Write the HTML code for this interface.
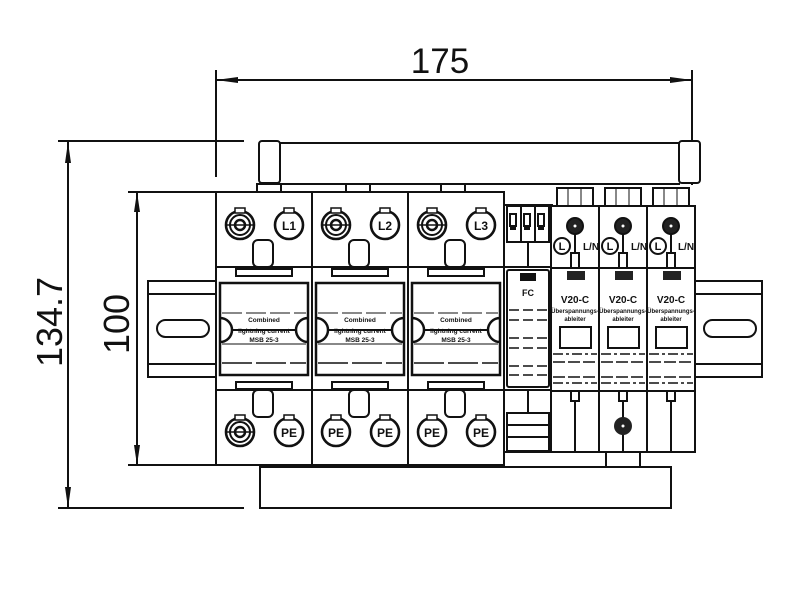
<!DOCTYPE html>
<html><head><meta charset="utf-8"><style>
html,body{margin:0;padding:0;background:#fff;width:800px;height:600px;overflow:hidden}
svg{display:block}
text{font-family:"Liberation Sans",sans-serif}
</style></head><body>
<svg width="800" height="600" viewBox="0 0 800 600" xmlns="http://www.w3.org/2000/svg">
<defs>
<g id="term">
<circle r="14" fill="#fff" stroke="#111" stroke-width="2.6"/>
<rect x="-5" y="-17" width="10" height="5" fill="#fff" stroke="#111" stroke-width="1.5"/>
</g>
<g id="screw">
<use href="#term"/>
<circle r="10" fill="none" stroke="#111" stroke-width="2"/>
<circle r="5" fill="none" stroke="#111" stroke-width="2.5"/>
<line x1="-14" y1="0" x2="14" y2="0" stroke="#111" stroke-width="1.5"/>
</g>
<g id="wide" fill="none" stroke="#111" stroke-width="2">
<rect x="0" y="0" width="96" height="273" fill="#fff"/>
<line x1="0" y1="75" x2="96" y2="75"/>
<line x1="0" y1="198" x2="96" y2="198"/>
<rect x="20" y="77" width="56" height="7"/>
<rect x="20" y="190" width="56" height="7"/>
<rect x="37" y="48" width="20" height="27" rx="5"/>
<rect x="37" y="198" width="20" height="27" rx="5"/>
<rect x="4" y="91" width="88" height="92" stroke-width="2.5"/>
<line x1="6" y1="121" x2="90" y2="121" stroke-width="1" stroke-dasharray="20 4"/>
<line x1="6" y1="152" x2="90" y2="152" stroke-width="1"/>
<line x1="6" y1="171" x2="90" y2="171" stroke-width="1.5" stroke-dasharray="30 4"/>
<path d="M4 126 A12 12 0 0 1 4 150" stroke-width="2.5"/>
<path d="M92 126 A12 12 0 0 0 92 150" stroke-width="2.5"/>
<line x1="16" y1="138" x2="80" y2="138" stroke-width="2"/>
</g>
<g id="vmod" fill="none" stroke="#111" stroke-width="2">
<rect x="0" y="0" width="48" height="246" fill="#fff"/>
<line x1="0" y1="62" x2="48" y2="62"/>
<line x1="0" y1="185" x2="48" y2="185"/>
<rect x="6" y="-18" width="36" height="18" fill="#fff"/>
<line x1="17" y1="-18" x2="17" y2="0" stroke-width="1"/>
<line x1="30" y1="-18" x2="30" y2="0" stroke-width="1"/>
<line x1="24" y1="12" x2="24" y2="47"/>
<circle cx="24" cy="20" r="8" fill="#222"/>
<circle cx="24" cy="20" r="1.5" fill="#fff" stroke="none"/>
<rect x="20" y="47" width="8" height="15" fill="#fff"/>
<circle cx="11" cy="40" r="8"/>
<rect x="16" y="65" width="18" height="9" fill="#222" stroke="none"/>
<rect x="9" y="121" width="31" height="21"/>
<line x1="2" y1="148" x2="46" y2="148" stroke-width="1.5" stroke-dasharray="10 3 3 3"/>
<line x1="2" y1="156" x2="46" y2="156" stroke-width="1.5" stroke-dasharray="12 3"/>
<line x1="2" y1="171" x2="46" y2="171" stroke-width="1.5" stroke-dasharray="12 3"/>
<line x1="2" y1="177" x2="46" y2="177" stroke-width="1.5" stroke-dasharray="10 3 3 3"/>
<rect x="20" y="185" width="8" height="10" fill="#fff"/>
<line x1="24" y1="195" x2="24" y2="246"/>
</g>
</defs>

<g stroke="#111" stroke-width="2" fill="none">
<line x1="216" y1="80" x2="692" y2="80"/>
<line x1="216" y1="70" x2="216" y2="177"/>
<line x1="692" y1="70" x2="692" y2="185"/>
<line x1="68" y1="142" x2="68" y2="508"/>
<line x1="58" y1="141" x2="244" y2="141"/>
<line x1="58" y1="508" x2="244" y2="508"/>
<line x1="137" y1="192" x2="137" y2="465"/>
<line x1="128" y1="192" x2="216" y2="192"/>
<line x1="128" y1="465" x2="216" y2="465"/>
</g>
<g fill="#111">
<path d="M216 80 L238 77 L238 83Z"/><path d="M692 80 L670 77 L670 83Z"/>
<path d="M68 142 L65 163 L71 163Z"/><path d="M68 508 L65 487 L71 487Z"/>
<path d="M137 192 L134 212 L140 212Z"/><path d="M137 465 L134 445 L140 445Z"/>
</g>
<text x="440" y="73" font-size="35" text-anchor="middle" fill="#111">175</text>
<text transform="translate(62,322) rotate(-90)" font-size="36" text-anchor="middle" fill="#111">134.7</text>
<text transform="translate(129,324) rotate(-90)" font-size="36" text-anchor="middle" fill="#111">100</text>

<g stroke="#111" stroke-width="2" fill="#fff">
<line x1="280" y1="143" x2="680" y2="143"/>
<line x1="280" y1="184" x2="680" y2="184"/>
<rect x="259" y="141" width="21" height="42" rx="3"/>
<rect x="679" y="141" width="21" height="42" rx="3"/>
<rect x="257" y="184" width="24" height="8"/>
<rect x="346" y="184" width="24" height="8"/>
<rect x="441" y="184" width="24" height="8"/>
</g>

<g stroke="#111" stroke-width="2" fill="#fff">
<rect x="148" y="281" width="68" height="96"/>
<line x1="148" y1="294" x2="216" y2="294"/>
<line x1="148" y1="364" x2="216" y2="364"/>
<rect x="157" y="320" width="52" height="17" rx="8.5"/>
<rect x="694" y="281" width="68" height="96"/>
<line x1="694" y1="294" x2="762" y2="294"/>
<line x1="694" y1="364" x2="762" y2="364"/>
<rect x="704" y="320" width="52" height="17" rx="8.5"/>
</g>

<rect x="260" y="467" width="411" height="41" fill="#fff" stroke="#111" stroke-width="2"/>
<rect x="606" y="450" width="34" height="17" fill="#fff" stroke="#111" stroke-width="2"/>

<g transform="translate(216,192)"><use href="#wide"/></g>
<g transform="translate(312,192)"><use href="#wide"/></g>
<g transform="translate(408,192)"><use href="#wide"/></g>

<use href="#screw" x="240" y="225"/><use href="#term" x="289" y="225"/>
<use href="#screw" x="336" y="225"/><use href="#term" x="385" y="225"/>
<use href="#screw" x="432" y="225"/><use href="#term" x="481" y="225"/>
<use href="#screw" x="240" y="432"/><use href="#term" x="289" y="432"/>
<use href="#term" x="336" y="432"/><use href="#term" x="385" y="432"/>
<use href="#term" x="432" y="432"/><use href="#term" x="481" y="432"/>
<g font-size="12" font-weight="bold" text-anchor="middle" fill="#111">
<text x="289" y="230">L1</text><text x="385" y="230">L2</text><text x="481" y="230">L3</text>
<text x="289" y="437">PE</text><text x="336" y="437">PE</text><text x="385" y="437">PE</text>
<text x="432" y="437">PE</text><text x="481" y="437">PE</text>
</g>
<g font-size="6.5" font-weight="bold" text-anchor="middle" fill="#111">
<text x="264" y="322">Combined</text><text x="264" y="333">lightning current</text><text x="264" y="342">MSB 25-3</text>
<text x="360" y="322">Combined</text><text x="360" y="333">lightning current</text><text x="360" y="342">MSB 25-3</text>
<text x="456" y="322">Combined</text><text x="456" y="333">lightning current</text><text x="456" y="342">MSB 25-3</text>
</g>

<g stroke="#111" stroke-width="2" fill="#fff">
<rect x="504" y="205" width="48" height="247"/>
<line x1="504" y1="267" x2="552" y2="267"/>
<line x1="504" y1="390" x2="552" y2="390"/>
<rect x="507" y="206" width="42" height="36"/>
<line x1="521" y1="206" x2="521" y2="242"/><line x1="535" y1="206" x2="535" y2="242"/>
<rect x="510" y="214" width="6" height="12"/><rect x="524" y="214" width="6" height="12"/><rect x="538" y="214" width="6" height="12"/>
<line x1="528" y1="242" x2="528" y2="267"/>
<rect x="507" y="270" width="42" height="117" rx="2"/>
<line x1="509" y1="310" x2="547" y2="310" stroke-width="1.5" stroke-dasharray="10 4"/>
<line x1="509" y1="320" x2="547" y2="320" stroke-width="1.5" stroke-dasharray="10 4"/>
<line x1="509" y1="338" x2="547" y2="338" stroke-width="1.5" stroke-dasharray="10 4"/>
<line x1="509" y1="348" x2="547" y2="348" stroke-width="1.5" stroke-dasharray="10 4"/>
<line x1="509" y1="366" x2="547" y2="366" stroke-width="1.5" stroke-dasharray="10 4"/>
<line x1="509" y1="375" x2="547" y2="375" stroke-width="1.5" stroke-dasharray="10 4"/>
<line x1="528" y1="390" x2="528" y2="452"/>
<rect x="507" y="413" width="42" height="38"/>
<line x1="507" y1="425" x2="549" y2="425"/><line x1="507" y1="437" x2="549" y2="437"/>
</g>
<g fill="#111">
<rect x="510" y="226" width="6" height="4"/><rect x="524" y="226" width="6" height="4"/><rect x="538" y="226" width="6" height="4"/>
<rect x="520" y="273" width="16" height="8"/>
</g>
<text x="528" y="296" font-size="9" font-weight="bold" text-anchor="middle" fill="#111">FC</text>

<g transform="translate(551,206)"><use href="#vmod"/></g>
<g transform="translate(599,206)"><use href="#vmod"/></g>
<g transform="translate(647,206)"><use href="#vmod"/></g>
<circle cx="623" cy="426" r="9" fill="#222"/><circle cx="623" cy="426" r="1.5" fill="#fff"/>
<g font-weight="bold" fill="#111" text-anchor="middle">
<text x="562" y="250" font-size="11">L</text><text x="610" y="250" font-size="11">L</text><text x="658" y="250" font-size="11">L</text>
<text x="591" y="250" font-size="10">L/N</text><text x="639" y="250" font-size="10">L/N</text><text x="686" y="250" font-size="10">L/N</text>
<text x="575" y="303" font-size="10">V20-C</text><text x="623" y="303" font-size="10">V20-C</text><text x="671" y="303" font-size="10">V20-C</text>
<text x="575" y="313" font-size="6">Überspannungs-</text><text x="623" y="313" font-size="6">Überspannungs-</text><text x="671" y="313" font-size="6">Überspannungs-</text>
<text x="575" y="321" font-size="6">ableiter</text><text x="623" y="321" font-size="6">ableiter</text><text x="671" y="321" font-size="6">ableiter</text>
</g>
</svg>
</body></html>
